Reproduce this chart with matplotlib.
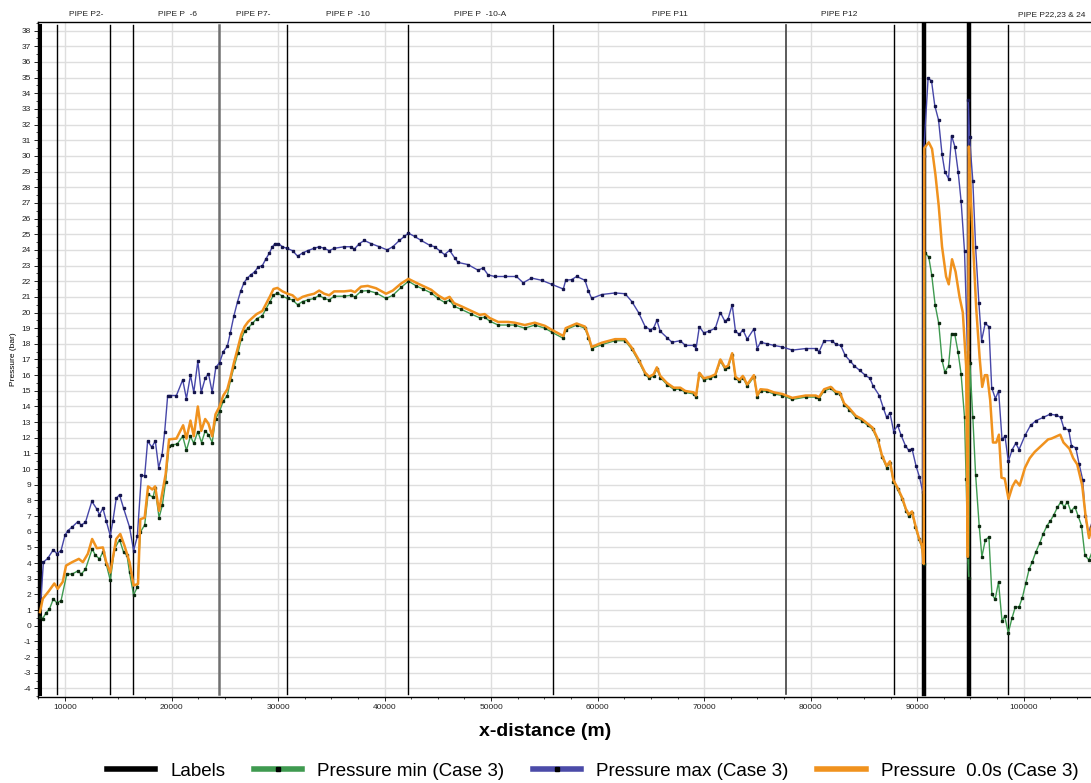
import matplotlib
matplotlib.use("Agg")
import matplotlib.pyplot as plt
from matplotlib.lines import Line2D
from matplotlib.ticker import MultipleLocator

plt.rcParams['font.family'] = ['Liberation Sans', 'DejaVu Sans']
plt.rcParams['axes.unicode_minus'] = False

# vi tri cac duong "Labels" (m)
label_x = [7655, 9250, 14250, 16400, 24500, 30820, 42220, 55770, 77700, 87790, 90590, 94850, 98520]

# ten cac doan ong va vi tri ghi chu (m)
pipe_names = ["PIPE P2-", "PIPE P  -6", "PIPE P7-", "PIPE P  -10", "PIPE P  -10-A",
              "PIPE P11", "PIPE P12", "PIPE P22,23 & 24"]
pipe_x = [11990, 20560, 27710, 36560, 48990, 66790, 82660, 102660]

# Pressure max (Case 3)
max_x = [7750, 7970, 8380, 8910, 9230, 9630, 10010, 10260, 10670, 11210, 11520, 11920, 12520,
         12990, 13240, 13560, 13870, 14250, 14500, 14810, 15120, 15500, 16060, 16440, 16790,
         17170, 17480, 17760, 18150, 18480, 18790, 19110, 19360, 19640, 19900, 20460, 21050,
         21400, 21780, 22090, 22470, 22790, 23160, 23470, 23820, 24160, 24510, 24860, 25240,
         25520, 25860, 26200, 26490, 26800, 27120, 27430, 27810, 28120, 28530, 28840, 29190,
         29470, 29720, 30040, 30410, 30820, 31360, 31830, 32300, 32770, 33390, 33860, 34330,
         34800, 35270, 36210, 36850, 37160, 37630, 38100, 38730, 39510, 40240, 40770, 41390,
         41860, 42240, 42810, 43440, 44220, 44690, 45160, 45630, 46100, 46570, 46890, 47830,
         48780, 49250, 49720, 50340, 51280, 52380, 53010, 53790, 54740, 55680, 56780, 57000,
         57560, 58030, 58810, 59130, 59440, 60390, 61640, 62580, 63210, 63840, 64460, 64930,
         65250, 65560, 65880, 66510, 66980, 67760, 68230, 69020, 69240, 69550, 69960, 70430,
         71050, 71520, 71940, 72250, 72630, 72940, 73310, 73630, 74040, 74670, 74980, 75290,
         75920, 76550, 77330, 78280, 79530, 80470, 80790, 81260, 82040, 82350, 82820, 83240,
         83710, 84090, 84610, 85120, 85550, 85870, 86440, 86820, 87130, 87440, 87790, 88160,
         88470, 88890, 89200, 89510, 89890, 90210, 90520, 90590, 91020, 91340, 91650, 92000,
         92330, 92590, 92940, 93220, 93530, 93840, 94120, 94440, 94730, 94800, 94910, 95220,
         95480, 95790, 96040, 96380, 96730, 96990, 97340, 97640, 97960, 98240, 98550, 98920,
         99250, 99560, 100120, 100640, 101160, 101820, 102450, 103070, 103460, 103770, 104220,
         104480, 104890, 105190, 105540, 105770, 106080, 106270, 106520]
max_p = [1.7, 4.06, 4.3, 4.86, 4.6, 4.8, 5.8, 6.07, 6.3, 6.65, 6.43, 6.6, 7.94,
         7.45, 7.1, 7.5, 6.7, 5.75, 6.7, 8.13, 8.36, 7.5, 6.3, 4.8, 5.7,
         9.6, 9.57, 11.8, 11.4, 11.8, 10.1, 10.9, 12.4, 14.7, 14.7, 14.7, 15.7,
         14.5, 16.0, 14.9, 16.9, 14.9, 15.8, 16.1, 14.9, 16.5, 16.8, 17.5, 17.85,
         18.7, 19.8, 20.7, 21.36, 21.9, 22.2, 22.4, 22.6, 22.9, 23.0, 23.4, 23.8,
         24.2, 24.4, 24.4, 24.2, 24.1, 23.95, 23.6, 23.8, 23.95, 24.1, 24.2, 24.1,
         23.95, 24.1, 24.2, 24.2, 24.05, 24.4, 24.6, 24.4, 24.2, 24.0, 24.2, 24.6,
         24.86, 25.07, 24.86, 24.6, 24.3, 24.2, 23.95, 23.7, 23.97, 23.5, 23.2, 23.06,
         22.7, 22.85, 22.4, 22.3, 22.3, 22.3, 21.9, 22.2, 22.06, 21.8, 21.5, 22.06,
         22.1, 22.3, 22.06, 21.4, 20.9, 21.15, 21.25, 21.2, 20.7, 20.0, 19.1, 18.9,
         19.0, 19.5, 18.8, 18.4, 18.1, 18.2, 17.9, 17.9, 17.7, 19.1, 18.7, 18.8,
         19.0, 20.0, 19.45, 19.6, 20.5, 18.8, 18.6, 18.9, 18.3, 18.96, 17.7, 18.1,
         18.0, 17.9, 17.8, 17.6, 17.7, 17.7, 17.5, 18.2, 18.2, 17.96, 17.9, 17.26,
         16.9, 16.6, 16.3, 16.0, 15.8, 15.3, 14.7, 13.9, 13.3, 13.6, 12.4, 12.8,
         12.2, 11.5, 11.2, 11.3, 10.2, 9.5, 8.55, 30.0, 34.95, 34.8, 33.2, 32.3,
         30.1, 29.0, 28.55, 31.3, 30.6, 29.0, 27.1, 23.9, 17.5, 33.6, 31.2, 28.4,
         24.2, 20.6, 18.2, 19.3, 19.1, 15.2, 14.5, 15.0, 11.9, 12.1, 10.5, 11.25,
         11.65, 11.25, 12.15, 12.8, 13.1, 13.3, 13.5, 13.45, 13.3, 12.6, 12.5,
         11.5, 11.35, 10.35, 9.3, 7.0, 5.9, 6.3, 6.85]

# Pressure min (Case 3)
min_x = [7655, 7910, 8220, 8530, 8910, 9230, 9630, 10170, 10670, 11210, 11520, 11920, 12550,
         12860, 13240, 13560, 13870, 14250, 14650, 15120, 15500, 15820, 16060, 16440, 16790,
         17070, 17480, 17800, 18270, 18460, 18830, 19140, 19450, 19770, 20060, 20530, 21050,
         21400, 21780, 22090, 22470, 22820, 23160, 23470, 23820, 24130, 24510, 24860, 25240,
         25550, 25860, 26230, 26550, 26860, 27180, 27590, 27990, 28530, 28840, 29250, 29570,
         29940, 30410, 30890, 31360, 31830, 32300, 32770, 33390, 33860, 34330, 34800, 35270,
         36210, 36850, 37220, 37790, 38420, 39200, 40140, 40770, 41550, 42240, 42970, 43600,
         44380, 45010, 45630, 46100, 46520, 47200, 48140, 48930, 49400, 49870, 50660, 51600,
         52220, 53160, 54100, 55050, 55680, 56780, 57000, 58030, 58810, 59130, 59440, 60390,
         61640, 62580, 63210, 63840, 64460, 64840, 65250, 65560, 65880, 66510, 67140, 67760,
         68230, 69020, 69240, 69550, 69960, 70580, 71050, 71520, 71940, 72250, 72630, 72940,
         73310, 73630, 74040, 74670, 74980, 75290, 75920, 76550, 77330, 78280, 79530, 80470,
         80790, 81260, 81880, 82350, 82730, 83140, 83610, 84240, 84800, 85340, 85810, 86280,
         86680, 87130, 87440, 87760, 88160, 88570, 88940, 89200, 89510, 89830, 90140, 90450,
         90610, 90730, 91080, 91360, 91680, 92020, 92330, 92590, 92940, 93220, 93530, 93840,
         94120, 94440, 94590, 94750, 94830, 94940, 95220, 95480, 95820, 96070, 96400, 96730,
         97010, 97320, 97630, 97960, 98210, 98550, 98900, 99210, 99560, 99870, 100190, 100500,
         100810, 101130, 101510, 101820, 102190, 102500, 102820, 103160, 103480, 103790, 104100,
         104420, 104800, 105110, 105420, 105740, 106120, 106520]
min_p = [0.55, 0.45, 0.83, 1.04, 1.72, 1.46, 1.6, 3.3, 3.3, 3.5, 3.3, 3.6, 4.9,
         4.5, 4.27, 4.7, 3.95, 2.9, 4.9, 5.5, 4.7, 4.5, 3.4, 1.97, 2.46,
         5.97, 6.43, 8.4, 8.2, 8.77, 6.9, 7.7, 9.2, 11.5, 11.55, 11.6, 12.1,
         11.2, 12.1, 11.65, 12.4, 11.7, 12.44, 12.2, 11.7, 13.2, 13.7, 14.35, 14.7,
         15.7, 16.5, 17.4, 18.3, 18.8, 19.0, 19.3, 19.6, 19.8, 20.2, 20.7, 21.1,
         21.25, 21.04, 20.9, 20.8, 20.5, 20.7, 20.8, 20.9, 21.1, 20.9, 20.8, 21.04,
         21.04, 21.1, 21.0, 21.36, 21.4, 21.25, 20.9, 21.1, 21.6, 22.0, 21.7, 21.5,
         21.25, 20.9, 20.65, 20.8, 20.4, 20.2, 19.9, 19.66, 19.7, 19.45, 19.2, 19.2,
         19.2, 19.0, 19.2, 19.0, 18.75, 18.35, 18.9, 19.2, 19.0, 18.4, 17.7, 17.95,
         18.2, 18.2, 17.65, 16.9, 16.05, 15.8, 15.95, 16.4, 15.85, 15.4, 15.1, 15.1,
         14.9, 14.8, 14.6, 16.05, 15.7, 15.8, 15.95, 16.9, 16.4, 16.5, 17.3, 15.8,
         15.6, 15.85, 15.3, 15.9, 14.6, 15.0, 14.96, 14.8, 14.7, 14.45, 14.6, 14.6,
         14.5, 15.0, 15.15, 14.85, 14.8, 14.1, 13.8, 13.3, 13.1, 12.8, 12.55, 11.85,
         10.8, 10.1, 10.4, 9.2, 8.7, 8.1, 7.35, 7.0, 7.2, 6.3, 5.55, 5.0,
         3.95, 23.8, 23.55, 22.4, 20.5, 19.3, 16.95, 16.2, 16.6, 18.66, 18.6, 17.45,
         16.06, 13.3, 9.4, 4.4, 3.06, 16.8, 13.3, 9.65, 6.35, 4.4, 5.5, 5.65,
         2.0, 1.7, 2.8, 0.3, 0.6, -0.45, 0.5, 1.2, 1.2, 1.8, 2.7, 3.6,
         4.1, 4.7, 5.3, 5.86, 6.4, 6.7, 7.07, 7.56, 7.9, 7.6, 7.9,
         7.3, 7.6, 7.0, 6.4, 4.5, 4.2, 4.9]

# Pressure 0.0s (Case 3)
p0_x = [7655, 7910, 8470, 9000, 9320, 9790, 10100, 10670, 11300, 11680, 12150, 12550, 12990,
        13560, 13870, 14250, 14810, 15190, 15590, 16060, 16440, 16860, 17070, 17480, 17800,
        18200, 18460, 18830, 19450, 19770, 20460, 21090, 21400, 21780, 22090, 22470, 22790,
        23160, 23470, 23820, 24130, 24510, 24860, 25240, 25550, 25860, 26230, 26550, 26860,
        27180, 27590, 27990, 28530, 28840, 29250, 29570, 29940, 30410, 30890, 31360, 31830,
        32300, 32770, 33390, 33860, 34330, 34800, 35270, 36210, 36850, 37220, 37790, 38420,
        39200, 40140, 40770, 41550, 42240, 42970, 43600, 44380, 45010, 45630, 46100, 46520,
        47200, 48140, 48930, 49400, 49870, 50660, 51600, 52220, 53160, 54100, 55050, 55680,
        56780, 57000, 58030, 58810, 59130, 59440, 60390, 61640, 62580, 63210, 63840, 64460,
        64840, 65250, 65560, 65880, 66510, 67140, 67760, 68230, 69020, 69240, 69550, 69960,
        70580, 71050, 71520, 71940, 72250, 72630, 72940, 73310, 73630, 74040, 74670, 74980,
        75290, 75920, 76550, 77330, 78280, 79530, 80470, 80790, 81260, 81880, 82350, 82730,
        83140, 83610, 84240, 84800, 85340, 85810, 86280, 86680, 87130, 87440, 87760, 88160,
        88570, 88940, 89200, 89510, 89830, 90140, 90450, 90610, 90670, 91080, 91390, 91710,
        92020, 92330, 92710, 92960, 93270, 93600, 93970, 94280, 94590, 94750, 94850, 94970,
        95220, 95540, 95860, 96100, 96350, 96570, 96850, 97110, 97420, 97670, 97910, 98210,
        98570, 98940, 99250, 99620, 100120, 100560, 101030, 101350, 101820, 102290, 102600,
        103420, 103730, 104290, 104640, 105020, 105490, 105790, 106130, 106480]
p0_p = [0.87, 1.72, 2.2, 2.7, 2.36, 2.8, 3.84, 4.06, 4.27, 4.06, 4.6, 5.54, 4.95,
        5.0, 4.06, 3.4, 5.54, 5.86, 5.1, 4.06, 2.57, 2.67, 6.8, 6.9, 8.9,
        8.7, 8.9, 7.34, 9.68, 11.9, 11.95, 12.8, 11.95, 13.1, 12.1, 14.0, 12.44,
        13.2, 12.9, 12.1, 13.5, 14.0, 14.7, 15.1, 15.9, 16.8, 17.75, 18.6, 19.1,
        19.4, 19.66, 19.9, 20.1, 20.5, 21.04, 21.5, 21.57, 21.35, 21.2, 21.1, 20.8,
        21.0, 21.1, 21.2, 21.4, 21.2, 21.1, 21.35, 21.35, 21.4, 21.3, 21.65, 21.7,
        21.55, 21.2, 21.4, 21.85, 22.15, 21.9, 21.7, 21.45, 21.1, 20.85, 21.0, 20.6,
        20.4, 20.1, 19.85, 19.9, 19.65, 19.4, 19.4, 19.35, 19.2, 19.35, 19.15, 18.9,
        18.5, 19.0, 19.3, 19.1, 18.5, 17.8, 18.07, 18.3, 18.3, 17.75, 17.0, 16.15,
        15.9, 16.05, 16.5, 15.95, 15.5, 15.2, 15.2, 14.99, 14.9, 14.7, 16.15, 15.8,
        15.9, 16.05, 17.0, 16.5, 16.6, 17.4, 15.9, 15.7, 15.95, 15.4, 16.0, 14.7,
        15.1, 15.06, 14.9, 14.8, 14.55, 14.7, 14.7, 14.6, 15.1, 15.25, 14.95, 14.9,
        14.2, 13.9, 13.4, 13.2, 12.9, 12.65, 11.95, 10.9, 10.2, 10.5, 9.3, 8.8,
        8.2, 7.45, 7.1, 7.3, 6.4, 5.65, 5.1, 3.95, 30.5, 30.87, 30.45, 28.8,
        26.8, 24.2, 22.3, 21.8, 23.4, 22.6, 21.0, 20.0, 16.6, 4.4, 30.6, 28.3,
        24.65, 20.25, 17.1, 15.25, 16.0, 16.0, 14.4, 11.7, 11.7, 12.2, 9.45, 9.4,
        8.1, 8.9, 9.27, 8.95, 10.1, 10.7, 11.1, 11.3, 11.6, 11.9, 11.95,
        12.2, 11.7, 11.3, 10.7, 10.3, 8.95, 7.1, 5.6, 6.6]

W, H = 1091, 783
fig = plt.figure(figsize=(W / 100, H / 100), dpi=100)
ax = fig.add_axes([38 / W, (H - 697) / H, (W - 38) / W + 0.003, (697 - 22) / H])

xmin, xmax = 7467, 106620
ymin, ymax = -4.55, 38.55

# luoi nen
ax.set_axisbelow(True)
ax.grid(True, which='major', color='#dedede', linewidth=1.0)

# duong Labels
for i, xv in enumerate(label_x):
    if i in (10, 11):
        lw, c = 3.2, 'black'
    elif i == 0:
        lw, c = 2.2, 'black'
    elif i == 4:
        lw, c = 1.8, '#707070'
    elif i == 8:
        lw, c = 1.2, '#404040'
    else:
        lw, c = 1.0, 'black'
    ax.plot([xv, xv], [-4.35, 38.35], color=c, linewidth=lw, zorder=2)

# cac duong ap suat
ax.plot(min_x, min_p, color='#3f9a50', linewidth=1.0, marker='s', markersize=1.7,
        markerfacecolor='#0d2a10', markeredgecolor='#0d2a10', zorder=3)
ax.plot(max_x, max_p, color='#4646a8', linewidth=1.0, marker='s', markersize=1.7,
        markerfacecolor='#15154d', markeredgecolor='#15154d', zorder=3)
ax.plot(p0_x, p0_p, color='#f0921e', linewidth=1.8, zorder=4)

ax.set_xlim(xmin, xmax)
ax.set_ylim(ymin, ymax)
ax.xaxis.set_major_locator(MultipleLocator(10000))
ax.xaxis.set_minor_locator(MultipleLocator(2500))
ax.yaxis.set_major_locator(MultipleLocator(1))
ax.yaxis.set_minor_locator(MultipleLocator(0.5))
ax.tick_params(axis='both', which='major', labelsize=6, length=3, width=0.6, pad=2)
ax.tick_params(axis='both', which='minor', length=1.5, width=0.5)
for lbl in ax.get_xticklabels() + ax.get_yticklabels():
    lbl.set_color('#222222')
ax.spines['right'].set_visible(False)
for s in ('left', 'top', 'bottom'):
    ax.spines[s].set_linewidth(1.0)

ax.set_ylabel('Pressure (bar)', fontsize=6, labelpad=3)
fig.text(545 / W, 1 - 731 / H, 'x-distance (m)', fontsize=14, fontweight='bold',
         ha='center', va='center')

# ten doan ong phia tren
for name, px in zip(pipe_names, pipe_x):
    ax.text(px, 1.006, name, transform=ax.get_xaxis_transform(), fontsize=6,
            ha='center', va='bottom', color='#222222')

# chu giai
handles = [
    Line2D([0, 0.5, 1], [0, 0, 0], color='black', linewidth=4),
    Line2D([0, 0.5, 1], [0, 0, 0], color='#3f9a50', linewidth=4, marker='s', markersize=3,
           markerfacecolor='black', markeredgecolor='black', markevery=[1]),
    Line2D([0, 0.5, 1], [0, 0, 0], color='#4b4ba8', linewidth=4, marker='s', markersize=3,
           markerfacecolor='black', markeredgecolor='black', markevery=[1]),
    Line2D([0, 0.5, 1], [0, 0, 0], color='#f0921e', linewidth=4),
]
names = ['Labels', 'Pressure min (Case 3)', 'Pressure max (Case 3)', 'Pressure  0.0s (Case 3)']
fig.legend(handles, names, loc='center', bbox_to_anchor=(0.543, 1 - 771 / H), ncol=4,
           frameon=False, fontsize=13.5, handlelength=2.6, columnspacing=1.5, handletextpad=0.8)

fig.savefig('out.png', dpi=100)
